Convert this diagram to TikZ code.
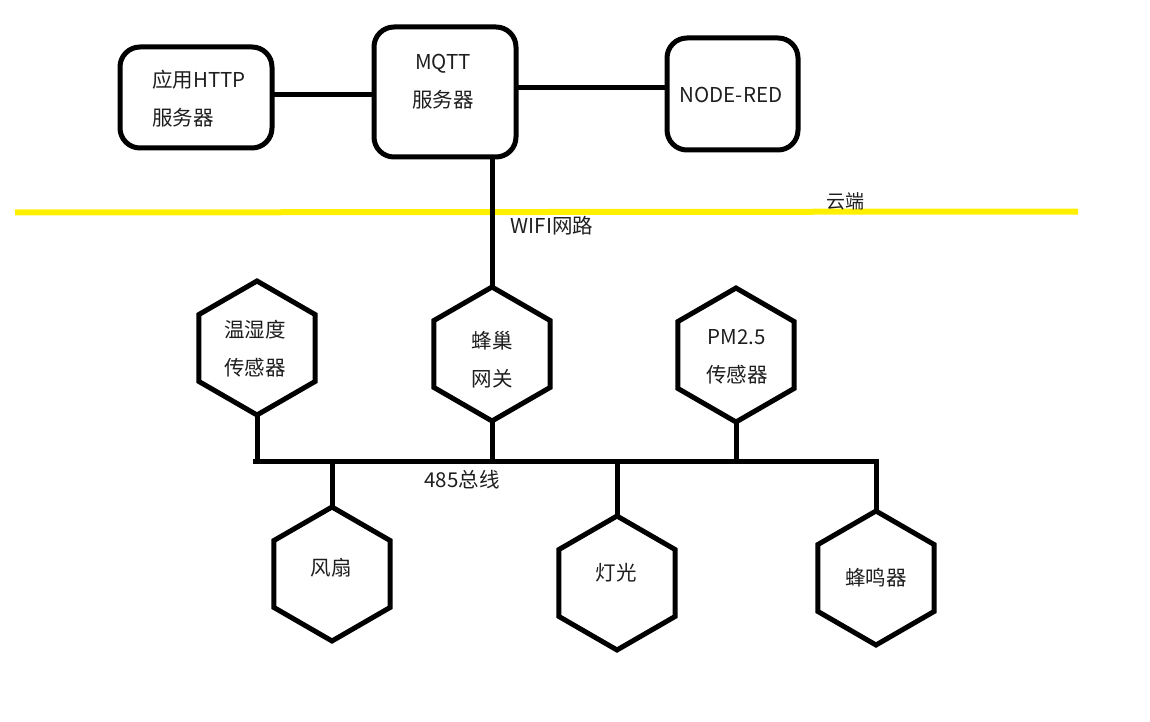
\documentclass[tikz,border=0pt]{standalone}
\usepackage{fontspec}
\setmainfont{Noto Sans CJK SC}
\usetikzlibrary{shapes.geometric}
\definecolor{hl}{RGB}{255,240,0}
\definecolor{ink}{RGB}{30,30,30}
\begin{document}
\begin{tikzpicture}[x=1pt,y=-1pt,
  box/.style={draw,line width=5pt,rounded corners=20pt,inner sep=0pt,outer sep=0pt},
  hexa/.style={draw,line width=5pt,regular polygon,regular polygon sides=6,shape border rotate=30,minimum size=134pt,inner sep=0pt,outer sep=0pt},
  conn/.style={line width=5pt},
  hlline/.style={line width=6pt,draw=hl},
  txt/.style={font=\fontsize{20.5}{38}\selectfont,align=center,text=ink,inner sep=0pt},
]
\useasboundingbox (0,0) rectangle (1150,722);

% yellow cloud boundary
\coordinate (yl) at (15,212.5);
\coordinate (yr) at (1078,211.5);
\draw[hlline] (yl) -- (yr);

% cloud boxes
\node[box,minimum width=152pt,minimum height=101pt] (http) at (196,97.5) {};
\node[box,minimum width=142pt,minimum height=130pt] (mqtt) at (445,92) {};
\node[box,minimum width=131pt,minimum height=112pt] (nr) at (732.5,94) {};
\node[txt,align=left] (thttp) at (199,99) {应用HTTP\\服务器};
\node[txt] (tmqtt) at (443,82) {MQTT\\服务器};
\node[txt] (tnr) at (731,95) {NODE-RED};

% hexagons
\node[hexa] (th) at (257,348) {};
\node[hexa] (gw) at (492,354) {};
\node[hexa] (pm) at (736,355) {};
\node[hexa] (fan) at (332,574) {};
\node[hexa] (light) at (617,583) {};
\node[hexa] (buzz) at (876,578) {};
\node[txt] (tth) at (255,349) {温湿度\\传感器};
\node[txt] (tgw) at (492,360) {蜂巢\\网关};
\node[txt] (tpm) at (737,357) {PM2.5\\传感器};
\node[txt] (tfan) at (331,568) {风扇};
\node[txt] (tlight) at (616,573) {灯光};
\node[txt] (tbuzz) at (876,578) {蜂鸣器};

% labels
\node[txt,font=\fontsize{19}{22}\selectfont] (cloud) at (845,201) {云端};
\node[txt] (wifi) at (552,226) {WIFI网路};
\node[txt] (bus) at (462,480) {485总线};

% connectors
\draw[conn] (http.east |- 0,95) -- (mqtt.west |- 0,95);
\draw[conn] (mqtt.east |- 0,88) -- (nr.west |- 0,88);
\draw[conn] (mqtt.south -| gw.north) -- (gw.north);

\coordinate (busL) at (253,461);
\draw[conn] (busL) -- (busL -| buzz.north) -- (buzz.north);
\draw[conn] (th.south) -- (th.south |- busL);
\draw[conn] (gw.south) -- (gw.south |- busL);
\draw[conn] (pm.south) -- (pm.south |- busL);
\draw[conn] (fan.north) -- (fan.north |- busL);
\draw[conn] (light.north) -- (light.north |- busL);
\end{tikzpicture}
\end{document}
